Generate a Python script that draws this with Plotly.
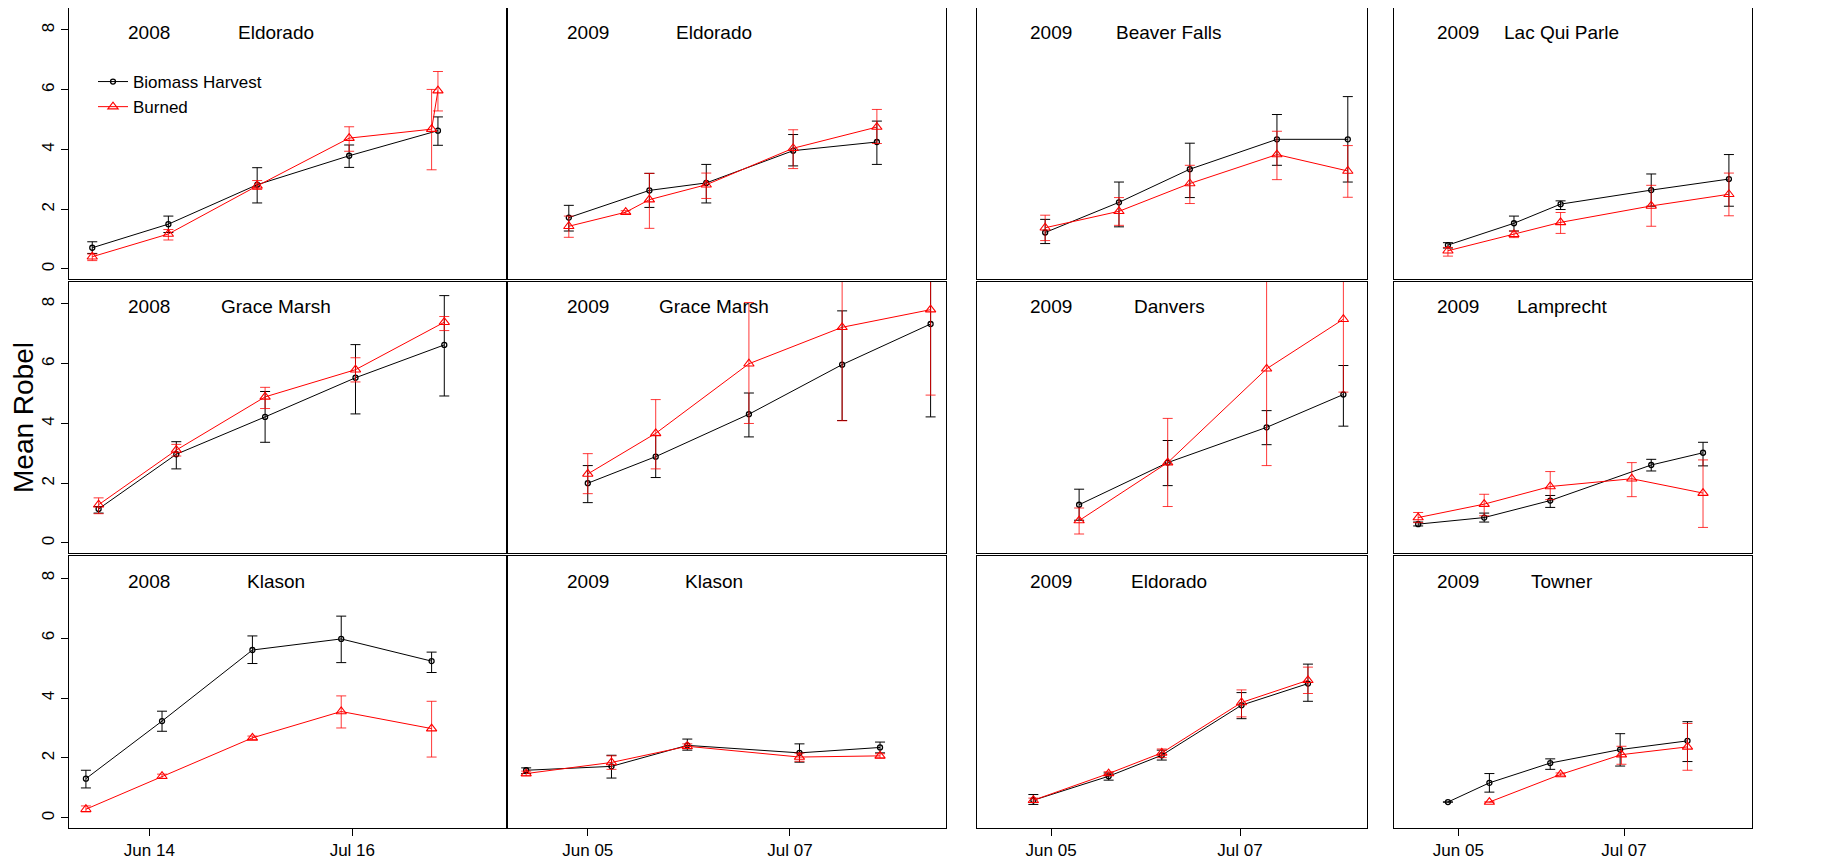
import plotly.graph_objects as go

# ------------------------------------------------------------------
# Data (mean Robel, upper / lower error limits)
# bh = Biomass Harvest, bu = Burned
# ------------------------------------------------------------------

# Panel: 2008 Eldorado
eld08_bh_date = ["2008-06-05", "2008-06-17", "2008-07-01", "2008-07-15 12:00", "2008-07-29 12:00"]
eld08_bh_mean = [0.71, 1.50, 2.82, 3.79, 4.63]
eld08_bh_hi = [0.91, 1.77, 3.39, 4.15, 5.09]
eld08_bh_lo = [0.52, 1.22, 2.21, 3.40, 4.14]
eld08_bu_date = ["2008-06-05", "2008-06-17", "2008-07-01", "2008-07-15 12:00", "2008-07-28 12:00", "2008-07-29 12:00"]
eld08_bu_mean = [0.41, 1.17, 2.78, 4.38, 4.68, 5.97]
eld08_bu_hi = [0.50, 1.32, 2.96, 4.76, 6.01, 6.61]
eld08_bu_lo = [0.28, 0.97, 2.66, 3.94, 3.32, 5.29]

# Panel: 2009 Eldorado (top row)
eld09a_bh_date = ["2009-06-02", "2009-06-14 18:00", "2009-06-23 18:00", "2009-07-07 12:00", "2009-07-20 18:00"]
eld09a_bh_mean = [1.72, 2.63, 2.88, 3.96, 4.25]
eld09a_bh_hi = [2.13, 3.20, 3.50, 4.50, 4.95]
eld09a_bh_lo = [1.27, 2.06, 2.21, 3.45, 3.50]
eld09a_bu_date = ["2009-06-02", "2009-06-11", "2009-06-14 18:00", "2009-06-23 18:00", "2009-07-07 12:00", "2009-07-20 18:00"]
eld09a_bu_mean = [1.43, 1.90, 2.32, 2.82, 4.04, 4.75]
eld09a_bu_hi = [1.77, 1.95, 3.20, 3.21, 4.66, 5.34]
eld09a_bu_lo = [1.06, 1.85, 1.36, 2.36, 3.36, 4.20]

# Panel: 2009 Beaver Falls
bvf09_bh_date = ["2009-06-04", "2009-06-16 12:00", "2009-06-28 12:00", "2009-07-13 06:00", "2009-07-25 06:00"]
bvf09_bh_mean = [1.22, 2.23, 3.34, 4.34, 4.34]
bvf09_bh_hi = [1.66, 2.91, 4.21, 5.17, 5.77]
bvf09_bh_lo = [0.85, 1.41, 2.39, 3.47, 2.91]
bvf09_bu_date = ["2009-06-04", "2009-06-16 12:00", "2009-06-28 12:00", "2009-07-13 06:00", "2009-07-25 06:00"]
bvf09_bu_mean = [1.38, 1.93, 2.86, 3.83, 3.28]
bvf09_bu_hi = [1.80, 2.39, 3.47, 4.61, 4.13]
bvf09_bu_lo = [0.95, 1.46, 2.19, 2.99, 2.40]

# Panel: 2009 Lac Qui Parle
lqp09_bh_date = ["2009-06-03", "2009-06-15 18:00", "2009-06-24 18:00", "2009-07-12 06:00", "2009-07-27 06:00"]
lqp09_bh_mean = [0.80, 1.53, 2.17, 2.64, 3.01]
lqp09_bh_hi = [0.88, 1.77, 2.28, 3.18, 3.83]
lqp09_bh_lo = [0.70, 1.27, 1.99, 2.10, 2.10]
lqp09_bu_date = ["2009-06-03", "2009-06-15 18:00", "2009-06-24 18:00", "2009-07-12 06:00", "2009-07-27 06:00"]
lqp09_bu_mean = [0.61, 1.16, 1.56, 2.11, 2.50]
lqp09_bu_hi = [0.72, 1.27, 1.89, 2.80, 3.21]
lqp09_bu_lo = [0.43, 1.05, 1.19, 1.43, 1.78]

# Panel: 2008 Grace Marsh
gm08_bh_date = ["2008-06-06", "2008-06-18 06:00", "2008-07-02 06:00", "2008-07-16 12:00", "2008-07-30 12:00"]
gm08_bh_mean = [1.14, 2.97, 4.22, 5.53, 6.63]
gm08_bh_hi = [1.22, 3.39, 5.07, 6.64, 8.28]
gm08_bh_lo = [1.00, 2.48, 3.37, 4.32, 4.92]
gm08_bu_date = ["2008-06-06", "2008-06-18 06:00", "2008-07-02 06:00", "2008-07-16 12:00", "2008-07-30 12:00"]
gm08_bu_mean = [1.28, 3.11, 4.89, 5.80, 7.39]
gm08_bu_hi = [1.51, 3.30, 5.21, 6.20, 7.58]
gm08_bu_lo = [0.98, 2.91, 4.50, 5.39, 7.11]

# Panel: 2009 Grace Marsh
gm09_bh_date = ["2009-06-05", "2009-06-15 18:00", "2009-06-30 12:00", "2009-07-15 06:00", "2009-07-29 06:00"]
gm09_bh_mean = [2.00, 2.89, 4.31, 5.97, 7.33]
gm09_bh_hi = [2.59, 3.60, 5.02, 7.77, 10.40]
gm09_bh_lo = [1.35, 2.19, 3.55, 4.10, 4.22]
gm09_bu_date = ["2009-06-05", "2009-06-15 18:00", "2009-06-30 12:00", "2009-07-15 06:00", "2009-07-29 06:00"]
gm09_bu_mean = [2.31, 3.67, 6.00, 7.22, 7.81]
gm09_bu_hi = [2.99, 4.80, 8.05, 10.35, 10.67]
gm09_bu_lo = [1.65, 2.48, 4.00, 4.09, 4.95]

# Panel: 2009 Danvers
dan09_bh_date = ["2009-06-09 18:00", "2009-06-24 18:00", "2009-07-11 12:00", "2009-07-24 12:00"]
dan09_bh_mean = [1.28, 2.69, 3.87, 4.97]
dan09_bh_hi = [1.80, 3.43, 4.43, 5.94]
dan09_bh_lo = [0.76, 1.92, 3.29, 3.91]
dan09_bu_date = ["2009-06-09 18:00", "2009-06-24 18:00", "2009-07-11 12:00", "2009-07-24 12:00"]
dan09_bu_mean = [0.75, 2.69, 5.83, 7.49]
dan09_bu_hi = [1.17, 4.17, 9.07, 9.93]
dan09_bu_lo = [0.30, 1.22, 2.59, 5.05]

# Panel: 2009 Lamprecht
lam09_bh_date = ["2009-05-28 06:00", "2009-06-10", "2009-06-22 18:00", "2009-07-12 06:00", "2009-07-22 06:00"]
lam09_bh_mean = [0.63, 0.85, 1.42, 2.61, 3.02]
lam09_bh_hi = [0.70, 1.00, 1.59, 2.80, 3.37]
lam09_bh_lo = [0.57, 0.70, 1.19, 2.41, 2.58]
lam09_bu_date = ["2009-05-28 06:00", "2009-06-10", "2009-06-22 18:00", "2009-07-08 12:00", "2009-07-22 06:00"]
lam09_bu_mean = [0.85, 1.30, 1.89, 2.15, 1.67]
lam09_bu_hi = [1.02, 1.63, 2.39, 2.69, 2.78]
lam09_bu_lo = [0.68, 0.91, 1.45, 1.55, 0.52]

# Panel: 2008 Klason
kla08_bh_date = ["2008-06-04", "2008-06-16", "2008-06-30 06:00", "2008-07-14 06:00", "2008-07-28 12:00"]
kla08_bh_mean = [1.31, 3.23, 5.60, 5.97, 5.23]
kla08_bh_hi = [1.59, 3.56, 6.07, 6.73, 5.53]
kla08_bh_lo = [1.00, 2.89, 5.15, 5.18, 4.85]
kla08_bu_date = ["2008-06-04", "2008-06-16", "2008-06-30 06:00", "2008-07-14 06:00", "2008-07-28 12:00"]
kla08_bu_mean = [0.29, 1.39, 2.67, 3.55, 2.98]
kla08_bu_hi = [0.40, 1.46, 2.73, 4.07, 3.89]
kla08_bu_lo = [0.20, 1.32, 2.61, 3.00, 2.03]

# Panel: 2009 Klason
kla09_bh_date = ["2009-05-26 06:00", "2009-06-08 18:00", "2009-06-20 18:00", "2009-07-08 12:00", "2009-07-21 06:00"]
kla09_bh_mean = [1.59, 1.72, 2.42, 2.17, 2.35]
kla09_bh_hi = [1.67, 2.09, 2.63, 2.47, 2.53]
kla09_bh_lo = [1.48, 1.33, 2.26, 1.86, 2.17]
kla09_bu_date = ["2009-05-26 06:00", "2009-06-08 18:00", "2009-06-20 18:00", "2009-07-08 12:00", "2009-07-21 06:00"]
kla09_bu_mean = [1.48, 1.85, 2.39, 2.03, 2.07]
kla09_bu_hi = [1.56, 2.07, 2.47, 2.16, 2.14]
kla09_bu_lo = [1.40, 1.62, 2.31, 1.89, 2.00]

# Panel: 2009 Eldorado (bottom row)
eld09b_bh_date = ["2009-06-02", "2009-06-14 18:00", "2009-06-23 18:00", "2009-07-07 06:00", "2009-07-18 12:00"]
eld09b_bh_mean = [0.59, 1.39, 2.09, 3.76, 4.48]
eld09b_bh_hi = [0.78, 1.50, 2.26, 4.18, 5.13]
eld09b_bh_lo = [0.45, 1.26, 1.93, 3.31, 3.89]
eld09b_bu_date = ["2009-06-02", "2009-06-14 18:00", "2009-06-23 18:00", "2009-07-07 06:00", "2009-07-18 12:00"]
eld09b_bu_mean = [0.59, 1.48, 2.17, 3.85, 4.59]
eld09b_bu_hi = [0.66, 1.54, 2.30, 4.27, 5.03]
eld09b_bu_lo = [0.52, 1.42, 2.01, 3.37, 4.15]

# Panel: 2009 Towner
tow09_bh_date = ["2009-06-03", "2009-06-11", "2009-06-22 18:00", "2009-07-06 06:00", "2009-07-19 06:00"]
tow09_bh_mean = [0.53, 1.17, 1.83, 2.28, 2.57]
tow09_bh_hi = [None, 1.48, 1.97, 2.81, 3.21]
tow09_bh_lo = [None, 0.86, 1.62, 1.73, 1.88]
tow09_bu_date = ["2009-06-11", "2009-06-24 18:00", "2009-07-06 12:00", "2009-07-19 06:00"]
tow09_bu_mean = [0.53, 1.45, 2.11, 2.37]
tow09_bu_hi = [None, 1.50, 2.39, 3.15]
tow09_bu_lo = [None, 1.40, 1.79, 1.59]

# Panel labels
panel_years = ["2008", "2009", "2009", "2009",
               "2008", "2009", "2009", "2009",
               "2008", "2009", "2009", "2009"]
panel_sites = ["Eldorado", "Eldorado", "Beaver Falls", "Lac Qui Parle",
               "Grace Marsh", "Grace Marsh", "Danvers", "Lamprecht",
               "Klason", "Klason", "Eldorado", "Towner"]
series_names = ["Biomass Harvest", "Burned"]
y_ticks = [0, 2, 4, 6, 8]
x_ticks_2008 = ["2008-06-14", "2008-07-16"]
x_ticks_2009 = ["2009-06-05", "2009-07-07"]

# ------------------------------------------------------------------
panel_series = [
    ((eld08_bh_date, eld08_bh_mean, eld08_bh_hi, eld08_bh_lo), (eld08_bu_date, eld08_bu_mean, eld08_bu_hi, eld08_bu_lo)),
    ((eld09a_bh_date, eld09a_bh_mean, eld09a_bh_hi, eld09a_bh_lo), (eld09a_bu_date, eld09a_bu_mean, eld09a_bu_hi, eld09a_bu_lo)),
    ((bvf09_bh_date, bvf09_bh_mean, bvf09_bh_hi, bvf09_bh_lo), (bvf09_bu_date, bvf09_bu_mean, bvf09_bu_hi, bvf09_bu_lo)),
    ((lqp09_bh_date, lqp09_bh_mean, lqp09_bh_hi, lqp09_bh_lo), (lqp09_bu_date, lqp09_bu_mean, lqp09_bu_hi, lqp09_bu_lo)),
    ((gm08_bh_date, gm08_bh_mean, gm08_bh_hi, gm08_bh_lo), (gm08_bu_date, gm08_bu_mean, gm08_bu_hi, gm08_bu_lo)),
    ((gm09_bh_date, gm09_bh_mean, gm09_bh_hi, gm09_bh_lo), (gm09_bu_date, gm09_bu_mean, gm09_bu_hi, gm09_bu_lo)),
    ((dan09_bh_date, dan09_bh_mean, dan09_bh_hi, dan09_bh_lo), (dan09_bu_date, dan09_bu_mean, dan09_bu_hi, dan09_bu_lo)),
    ((lam09_bh_date, lam09_bh_mean, lam09_bh_hi, lam09_bh_lo), (lam09_bu_date, lam09_bu_mean, lam09_bu_hi, lam09_bu_lo)),
    ((kla08_bh_date, kla08_bh_mean, kla08_bh_hi, kla08_bh_lo), (kla08_bu_date, kla08_bu_mean, kla08_bu_hi, kla08_bu_lo)),
    ((kla09_bh_date, kla09_bh_mean, kla09_bh_hi, kla09_bh_lo), (kla09_bu_date, kla09_bu_mean, kla09_bu_hi, kla09_bu_lo)),
    ((eld09b_bh_date, eld09b_bh_mean, eld09b_bh_hi, eld09b_bh_lo), (eld09b_bu_date, eld09b_bu_mean, eld09b_bu_hi, eld09b_bu_lo)),
    ((tow09_bh_date, tow09_bh_mean, tow09_bh_hi, tow09_bh_lo), (tow09_bu_date, tow09_bu_mean, tow09_bu_hi, tow09_bu_lo)),
]

# The page body has an 8px default margin, so the figure is drawn 8px in
# from the window's top-left corner; pixel positions below are window
# positions and OFF converts them to figure positions.
OFF = 8
W, H = 1832 - OFF, 859 - OFF
FONT = "Liberation Sans, Arial, Helvetica, sans-serif"

# panel geometry (window pixels)
col_px = [(69, 506), (508, 946), (977, 1367), (1394, 1752)]
row_px = [(8, 279), (282, 553), (556, 828)]
col_range = [
    ["2008-06-01 08:00", "2008-08-09 05:30"],
    ["2009-05-23 09:00", "2009-07-31 16:30"],
    ["2009-05-23 11:00", "2009-07-28 12:00"],
    ["2009-05-23 14:00", "2009-07-31 17:00"],
]
col_ticks = [x_ticks_2008, x_ticks_2009, x_ticks_2009, x_ticks_2009]
site_label_x = ["2008-07-04", "2009-06-25", "2009-06-25", "2009-06-25"]
y_range = [-0.336, 8.736]


def fx(px):
    return (px - OFF) / W


def fy(py):
    return 1 - (py - OFF) / H


styles = [
    dict(line=dict(color="black", width=1),
         marker=dict(symbol="circle-open", size=5, color="black", line=dict(width=1.3, color="black")),
         err_color="black"),
    dict(line=dict(color="#ff0000", width=1),
         marker=dict(symbol="triangle-up-open", size=9, color="#ff0000", line=dict(width=1.1, color="#ff0000")),
         err_color="rgba(255,0,0,0.78)"),
]

fig = go.Figure()
layout = dict(
    width=W, height=H,
    margin=dict(l=0, r=0, t=0, b=0),
    paper_bgcolor="white", plot_bgcolor="white",
    font=dict(family=FONT, color="black", size=17),
    showlegend=True,
    legend=dict(x=fx(93), y=fy(64), xanchor="left", yanchor="top",
                bgcolor="rgba(0,0,0,0)", borderwidth=0,
                font=dict(family=FONT, size=17, color="black"),
                itemwidth=30, tracegroupgap=0),
)
annotations = []

for i, series in enumerate(panel_series):
    r, c = divmod(i, 4)
    idx = i + 1
    xa = "xaxis" if idx == 1 else f"xaxis{idx}"
    ya = "yaxis" if idx == 1 else f"yaxis{idx}"
    xr = "x" if idx == 1 else f"x{idx}"
    yr = "y" if idx == 1 else f"y{idx}"
    x0, x1 = col_px[c]
    t0, t1 = row_px[r]
    layout[xa] = dict(
        domain=[fx(x0), fx(x1)], anchor=yr, type="date", range=col_range[c],
        tickvals=col_ticks[c], tickformat="%b %d",
        showticklabels=(r == 2), ticks="outside" if r == 2 else "",
        ticklen=7, tickwidth=1, tickcolor="black",
        tickfont=dict(family=FONT, size=17, color="black"),
        showline=True, mirror=True, linecolor="black", linewidth=1,
        showgrid=False, zeroline=False, automargin=False, fixedrange=True,
    )
    layout[ya] = dict(
        domain=[fy(t1), fy(t0)], anchor=xr, range=y_range,
        tickvals=y_ticks, showticklabels=(c == 0), ticks="outside" if c == 0 else "",
        ticklen=7, tickwidth=1, tickcolor="black", tickangle=-90,
        tickfont=dict(family=FONT, size=17, color="black"),
        showline=True, mirror=True, linecolor="black", linewidth=1,
        showgrid=False, zeroline=False, automargin=False, fixedrange=True,
    )
    for s, (dates, mean, hi, lo) in enumerate(series):
        st = styles[s]
        plus = [None if h is None else round(h - m, 3) for h, m in zip(hi, mean)]
        minus = [None if l is None else round(m - l, 3) for l, m in zip(lo, mean)]
        fig.add_trace(go.Scatter(
            x=dates, y=mean, mode="lines+markers", xaxis=xr, yaxis=yr,
            name=series_names[s], legendgroup=series_names[s], showlegend=(i == 0),
            line=st["line"], marker=st["marker"],
            error_y=dict(type="data", symmetric=False, array=plus, arrayminus=minus,
                         color=st["err_color"], thickness=1, width=5),
        ))
    annotations.append(dict(x=col_ticks[c][0], y=7.9, xref=xr, yref=yr, text=panel_years[i],
                            showarrow=False, xanchor="center", yanchor="middle",
                            font=dict(family=FONT, size=19, color="black")))
    annotations.append(dict(x=site_label_x[c], y=7.9, xref=xr, yref=yr, text=panel_sites[i],
                            showarrow=False, xanchor="center", yanchor="middle",
                            font=dict(family=FONT, size=19, color="black")))

annotations.append(dict(x=fx(23), y=fy(418), xref="paper", yref="paper", text="Mean Robel",
                        textangle=-90, showarrow=False, xanchor="center", yanchor="middle",
                        font=dict(family=FONT, size=28, color="black")))
layout["annotations"] = annotations
fig.update_layout(**layout)
fig.write_html("out.html")
